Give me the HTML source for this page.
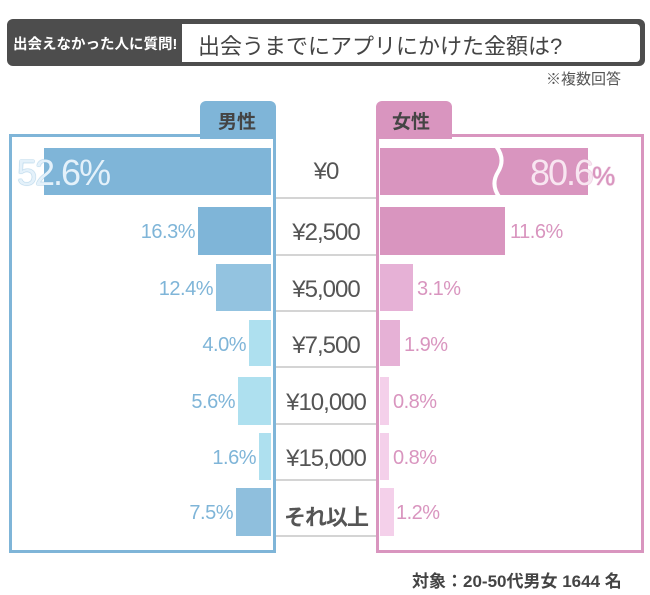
<!DOCTYPE html>
<html><head><meta charset="utf-8"><style>
body{margin:0;width:650px;height:595px;background:#fff;position:relative;overflow:hidden;font-family:"Liberation Sans","Noto Sans CJK JP",sans-serif}
div{position:absolute;box-sizing:border-box;white-space:nowrap}
.m{background:#7fb5d8}.f{background:#d995bf}
.lbl{font-size:20px;color:#7fb5d8;text-align:right;width:120px;letter-spacing:-0.5px}
.fl{font-size:20px;color:#d995bf;letter-spacing:-0.5px}
.c{left:276px;width:100px;text-align:center;font-size:24px;color:#555;letter-spacing:-1px}
.sep{left:276px;width:100px;height:2px;background:#d4d4d4}
</style></head><body>
<div style="left:7px;top:19px;width:638px;height:47px;background:#4d4d4d;border-radius:6px"></div>
<div style="left:13px;top:33px;font-size:14.5px;color:#fff;font-weight:bold">出会えなかった人に質問!</div>
<div style="left:182px;top:24px;width:458px;height:38px;background:#fff;border-radius:0 4px 4px 0"></div>
<div style="left:198px;top:29px;font-size:22px;color:#444">出会うまでにアプリにかけた金額は?</div>
<div style="left:546px;top:68px;font-size:15px;color:#555">※複数回答</div>

<div style="left:200px;top:101px;width:76px;height:38px;background:#7fb5d8;border-radius:6px 6px 0 0"></div>
<div style="left:218px;top:107px;font-size:19px;color:#444;font-weight:bold">男性</div>
<div style="left:9px;top:134px;width:267px;height:419px;border:3px solid #7fb5d8"></div>
<div style="left:376px;top:101px;width:76px;height:38px;background:#d995bf;border-radius:6px 6px 0 0"></div>
<div style="left:392px;top:107px;font-size:19px;color:#444;font-weight:bold">女性</div>
<div style="left:376px;top:134px;width:268px;height:419px;border:3px solid #d995bf"></div>

<div class="m" style="left:44px;top:148px;width:227px;height:47px"></div>
<div style="left:17px;top:152px;font-size:36px;color:#e4f1fa;letter-spacing:-2px;text-shadow:0 0 1px #7fb5d8,0 0 1px #7fb5d8">52.6%</div>
<div class="m" style="left:198px;top:207px;width:73px;height:48px"></div>
<div class="m" style="left:216px;top:264px;width:55px;height:47px;background:#93c3e0"></div>
<div class="m" style="left:249px;top:320px;width:22px;height:46px;background:#aee0ef"></div>
<div class="m" style="left:238px;top:377px;width:33px;height:48px;background:#aee0ef"></div>
<div class="m" style="left:259px;top:433px;width:12px;height:47px;background:#aee0ef"></div>
<div class="m" style="left:236px;top:488px;width:35px;height:48px;background:#8fbfdd"></div>
<div class="lbl" style="left:75px;top:221px">16.3%</div>
<div class="lbl" style="left:93px;top:278px">12.4%</div>
<div class="lbl" style="left:126px;top:334px">4.0%</div>
<div class="lbl" style="left:115px;top:391px">5.6%</div>
<div class="lbl" style="left:136px;top:447px">1.6%</div>
<div class="lbl" style="left:113px;top:502px">7.5%</div>

<div class="f" style="left:380px;top:148px;width:208px;height:47px"></div>
<svg style="position:absolute;left:490px;top:146px" width="20" height="52"><path d="M6 0 Q16 13 8 26 Q0 39 10 52" stroke="#fff" stroke-width="4" fill="none"/></svg>
<div style="left:530px;top:152px;font-size:36px;color:#f8e6f1;letter-spacing:-2px;text-shadow:0 0 1px #d995bf,0 0 1px #d995bf">80.6<span style="font-size:26px;color:#d995bf">%</span></div>
<div class="f" style="left:380px;top:207px;width:125px;height:48px"></div>
<div class="f" style="left:380px;top:264px;width:33px;height:47px;background:#e6b1d6"></div>
<div class="f" style="left:380px;top:320px;width:20px;height:46px;background:#e6b1d6"></div>
<div class="f" style="left:380px;top:377px;width:9px;height:48px;background:#f4d0ea"></div>
<div class="f" style="left:380px;top:433px;width:9px;height:47px;background:#f4d0ea"></div>
<div class="f" style="left:380px;top:488px;width:14px;height:48px;background:#f4d0ea"></div>
<div class="fl" style="left:510px;top:221px">11.6%</div>
<div class="fl" style="left:417px;top:278px">3.1%</div>
<div class="fl" style="left:404px;top:334px">1.9%</div>
<div class="fl" style="left:393px;top:391px">0.8%</div>
<div class="fl" style="left:393px;top:447px">0.8%</div>
<div class="fl" style="left:396px;top:502px">1.2%</div>

<div class="c" style="top:158px">¥0</div>
<div class="c" style="top:219px">¥2,500</div>
<div class="c" style="top:276px">¥5,000</div>
<div class="c" style="top:332px">¥7,500</div>
<div class="c" style="top:389px">¥10,000</div>
<div class="c" style="top:445px">¥15,000</div>
<div class="c" style="top:500px;font-weight:bold;font-size:22px">それ以上</div>
<div class="sep" style="top:197px"></div>
<div class="sep" style="top:254px"></div>
<div class="sep" style="top:310px"></div>
<div class="sep" style="top:366px"></div>
<div class="sep" style="top:423px"></div>
<div class="sep" style="top:479px"></div>
<div class="sep" style="top:535px"></div>

<div style="left:412px;top:567px;font-size:17px;color:#444;font-weight:bold">対象：20-50代男女 1644 名</div>
</body></html>
